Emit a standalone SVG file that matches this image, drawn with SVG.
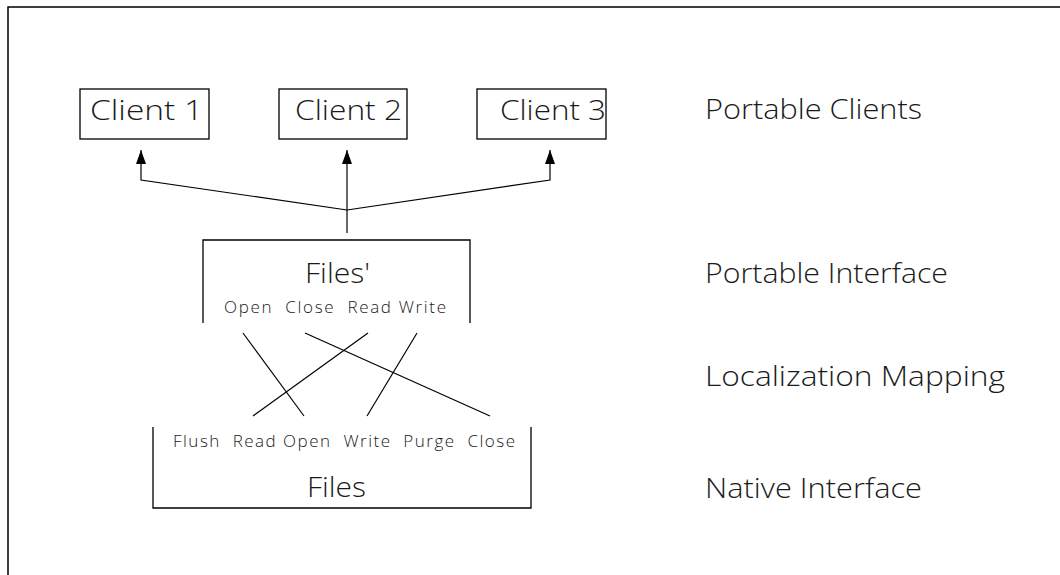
<svg xmlns="http://www.w3.org/2000/svg" width="1060" height="575" viewBox="0 0 1060 575">
<style>
.frame{fill:none;stroke:#000;stroke-width:1.5}
.box{fill:#fff;stroke:#000;stroke-width:1.3}
.edge{fill:none;stroke:#000;stroke-width:1.2}
.big{font-family:"Open Sans","Liberation Sans",sans-serif;font-size:27px;font-weight:300;fill:#1a1a1a}
.small{font-family:"Open Sans","Liberation Sans",sans-serif;font-size:17px;font-weight:300;fill:#1a1a1a}
</style>
<defs>
<marker id="arr" viewBox="0 0 14 10" refX="14" refY="5" markerWidth="14" markerHeight="10" markerUnits="userSpaceOnUse" orient="auto">
<path d="M0,0 L14,5 L0,10 z" fill="#000"/>
</marker>
</defs>
<rect width="1060" height="575" fill="#fff"/>
<path class="frame" d="M8,575 V7 H1060"/>
<g id="client1">
<rect class="box" x="80" y="89" width="129" height="50"/>
<text class="big" x="90" y="120" textLength="113" lengthAdjust="spacingAndGlyphs">Client 1</text>
</g>
<g id="client2">
<rect class="box" x="279" y="89" width="128" height="50"/>
<text class="big" x="295" y="120" textLength="107" lengthAdjust="spacingAndGlyphs">Client 2</text>
</g>
<g id="client3">
<rect class="box" x="477" y="89" width="129" height="50"/>
<text class="big" x="500" y="120" textLength="106" lengthAdjust="spacingAndGlyphs">Client 3</text>
</g>
<g id="portable-interface">
<path class="edge" style="stroke-width:1.3" d="M203,323 V240 H470 V323"/>
<text class="big" x="305" y="283" textLength="65" lengthAdjust="spacingAndGlyphs">Files'</text>
<text class="small" x="224" y="313" xml:space="preserve" textLength="222" lengthAdjust="spacing">Open  Close  Read Write</text>
</g>
<g id="native-interface">
<path class="edge" style="stroke-width:1.3" d="M153,427 V508 H531 V427"/>
<text class="small" x="173" y="447" xml:space="preserve" textLength="342" lengthAdjust="spacing">Flush  Read Open  Write  Purge  Close</text>
<text class="big" x="307" y="497" textLength="59" lengthAdjust="spacingAndGlyphs">Files</text>
</g>
<g id="labels">
<text class="big" x="705" y="119" textLength="217" lengthAdjust="spacingAndGlyphs">Portable Clients</text>
<text class="big" x="705" y="283" textLength="243" lengthAdjust="spacingAndGlyphs">Portable Interface</text>
<text class="big" x="705" y="386" textLength="300" lengthAdjust="spacingAndGlyphs">Localization Mapping</text>
<text class="big" x="705" y="498" textLength="217" lengthAdjust="spacingAndGlyphs">Native Interface</text>
</g>
<g id="connectors">
<path class="edge" d="M347,233 V150" marker-end="url(#arr)"/>
<path class="edge" d="M347,210 L141,180 V150" marker-end="url(#arr)"/>
<path class="edge" d="M347,210 L550,180 V150" marker-end="url(#arr)"/>
<line class="edge" x1="243" y1="333" x2="304" y2="416"/>
<line class="edge" x1="305" y1="333" x2="490" y2="416"/>
<line class="edge" x1="368" y1="333" x2="253" y2="416"/>
<line class="edge" x1="417" y1="333" x2="367" y2="416"/>
</g>
</svg>
